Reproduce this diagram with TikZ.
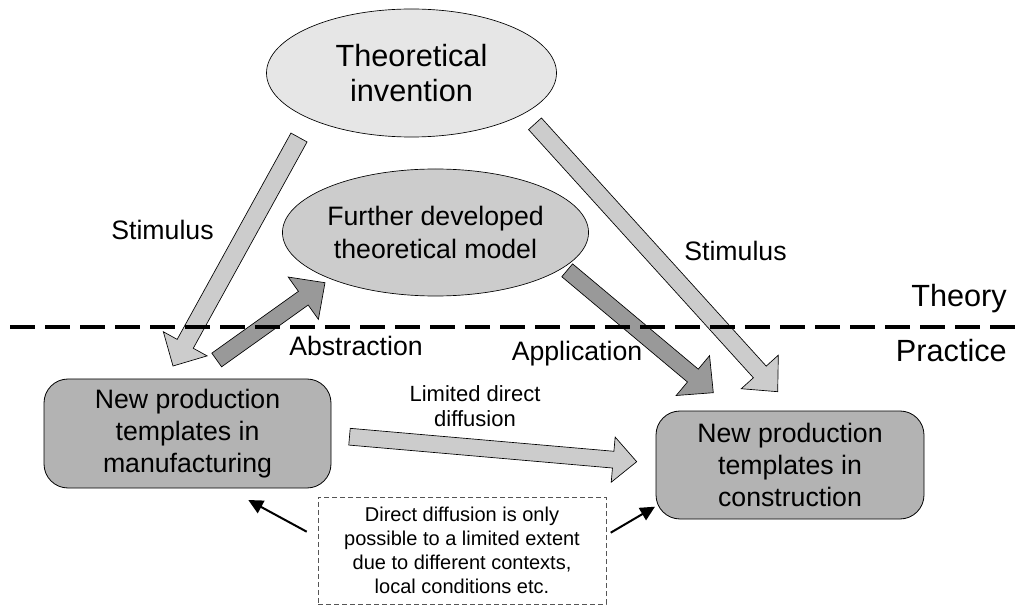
\documentclass[tikz,border=0pt]{standalone}
\usepackage{fontspec}
\setmainfont{Liberation Sans}
\usetikzlibrary{shapes.geometric,calc,arrows.meta}
\definecolor{ellA}{HTML}{E6E6E6}
\definecolor{ellB}{HTML}{CCCCCC}
\definecolor{boxC}{HTML}{B3B3B3}
\definecolor{arrL}{HTML}{CCCCCC}
\definecolor{arrD}{HTML}{999999}
\definecolor{dashG}{HTML}{555555}
\newcommand\blockarrow[6]{%
  \coordinate (#2-hb) at ($(#3)!#6!(#2)$);
  \draw[#1] ($(#2)!#4!90:(#3)$) -- ($(#2-hb)!#4!90:(#3)$) -- ($(#2-hb)!#5!90:(#3)$) -- (#3)
    -- ($(#2-hb)!#5!-90:(#3)$) -- ($(#2-hb)!#4!-90:(#3)$) -- ($(#2)!#4!-90:(#3)$) -- cycle;
}
\tikzset{
  ell/.style={ellipse, draw=black, line width=0.5pt, inner sep=0pt, align=center},
  rbox/.style={rectangle, rounded corners=18pt, draw=black, line width=0.6pt, fill=boxC, inner sep=0pt, align=center,
    font=\fontsize{20pt}{24pt}\selectfont},
  notebox/.style={rectangle, draw=dashG, dash pattern=on 4pt off 2pt, line width=0.6pt, inner sep=0pt, align=center,
    font=\fontsize{15pt}{18pt}\selectfont},
  lbl/.style={anchor=base, inner sep=0pt, font=\fontsize{20pt}{24pt}\selectfont},
  biglbl/.style={anchor=base east, inner sep=0pt, font=\fontsize{23pt}{26pt}\selectfont},
  lightarrow/.style={fill=arrL, draw=black, line width=0.5pt, line join=miter},
  darkarrow/.style={fill=arrD, draw=black, line width=0.5pt, line join=miter},
  thinarrow/.style={draw=black, line width=1.5pt, -{Triangle[length=11pt,width=10.5pt]}},
  divider/.style={draw=black, line width=3pt, dash pattern=on 18.75pt off 7.5pt}
}
\begin{document}
\begin{tikzpicture}[x=0.75pt,y=-0.75pt]
\useasboundingbox (0,0) rectangle (1026,606);

% nodes
\node[ell, fill=ellA, minimum width=217.5pt, minimum height=96pt,
  font=\fontsize{23pt}{26.25pt}\selectfont] (ti) at (411.5,73) {Theoretical\\invention};
\node[ell, fill=ellB, minimum width=206.25pt, minimum height=95.25pt,
  font=\fontsize{20pt}{24.75pt}\selectfont] (fd) at (435.5,232.5) {Further developed\\theoretical model};
\node[rbox, minimum width=215.25pt, minimum height=81.75pt] (man) at (187.5,433.5) {New production\\templates in\\manufacturing};
\node[rbox, minimum width=201pt, minimum height=81pt] (con) at (790,465) {New production\\templates in\\construction};
\node[notebox, minimum width=216pt, minimum height=80.25pt] (note) at (462,550.5) {Direct diffusion is only\\possible to a limited extent\\due to different contexts,\\local conditions etc.};

% block arrow end points
\coordinate (stLt) at (299,137.5);  \coordinate (stLh) at (173,366);
\coordinate (abst) at (216.7,360);  \coordinate (absh) at (325,282.7);
\coordinate (appt) at (567.2,270.3);\coordinate (apph) at (713.3,392.7);
\coordinate (stRt) at (535,123.8);  \coordinate (stRh) at (777.7,391.7);
\coordinate (dift) at (349.5,436.7);\coordinate (difh) at (636.7,461.7);

\blockarrow{lightarrow}{stLt}{stLh}{6.9pt}{18.75pt}{19pt}
\blockarrow{darkarrow}{abst}{absh}{6.3pt}{19.5pt}{20pt}
\blockarrow{darkarrow}{appt}{apph}{6.3pt}{19.5pt}{20pt}
\blockarrow{lightarrow}{stRt}{stRh}{6.5pt}{18.75pt}{20pt}
\blockarrow{lightarrow}{dift}{difh}{6.3pt}{17pt}{17.7pt}

% thin arrows from the note
\coordinate (nL) at (306.7,531.7); \coordinate (nLh) at (248.3,500);
\coordinate (nR) at (610.7,532.7); \coordinate (nRh) at (655,506.7);
\draw[thinarrow] (nL) -- (nLh);
\draw[thinarrow] (nR) -- (nRh);

% labels
\node[lbl] (lstL) at (162.5,240) {Stimulus};
\node[lbl] (lstR) at (735.5,261) {Stimulus};
\node[lbl] (labs) at (356,355) {Abstraction};
\node[lbl] (lapp) at (577,360) {Application};
\node[inner sep=0pt, align=center, font=\fontsize{16.5pt}{18.75pt}\selectfont] (ldif) at (475,406) {Limited direct\\diffusion};
\node[biglbl] (lth) at (1007,306.7) {Theory};
\node[biglbl] (lpr) at (1007,361.7) {Practice};

% divider
\coordinate (dvL) at (10,327.5); \coordinate (dvR) at (1022,327.5);
\draw[divider] (dvL) -- (dvR);
\end{tikzpicture}
\end{document}
